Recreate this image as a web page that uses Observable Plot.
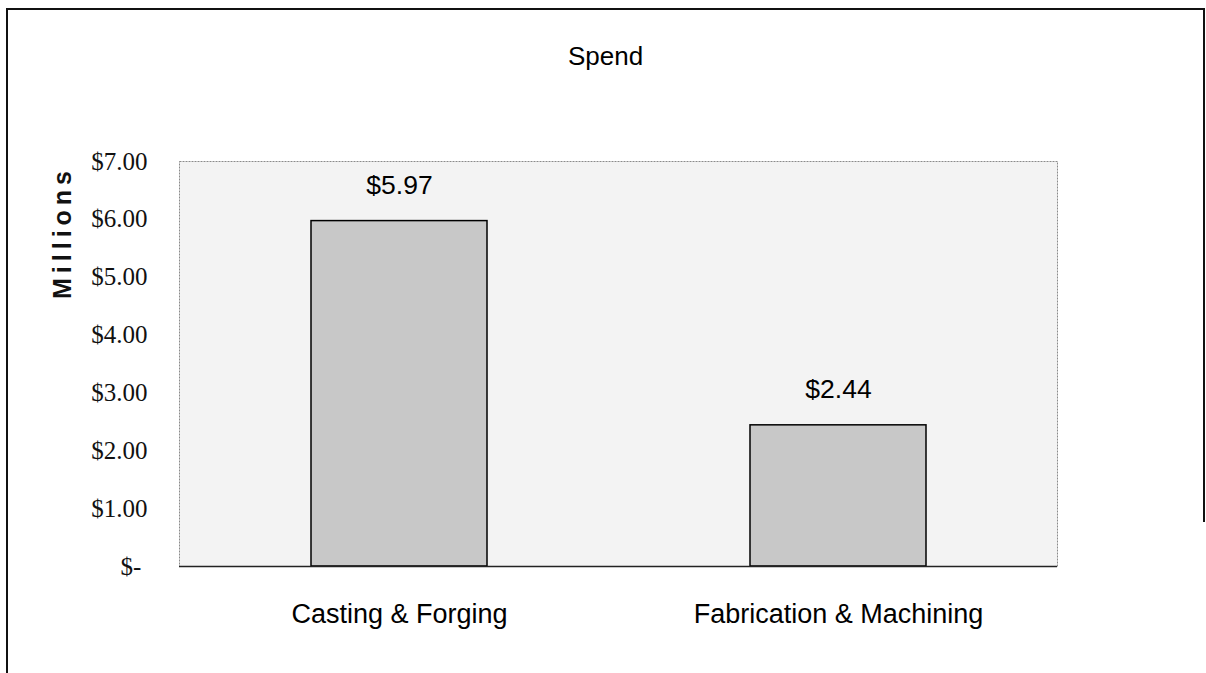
<!DOCTYPE html>
<html>
<head>
<meta charset="utf-8">
<script src="https://cdn.jsdelivr.net/npm/d3@7"></script>
<script src="https://cdn.jsdelivr.net/npm/@observablehq/plot@0.6"></script>
<style>
  html, body { margin: 0; padding: 0; background: #fff; }
  #wrap { position: relative; width: 1206px; height: 673px; overflow: hidden; }
  .b1 { position: absolute; left: 6px; top: 8px; width: 1195px; height: 512px;
        border-left: 2px solid #111; border-top: 2px solid #111; border-right: 2px solid #111; pointer-events: none; }
  .b2 { position: absolute; left: 6px; top: 520px; height: 160px; border-left: 2px solid #111; pointer-events: none; }
</style>
</head>
<body>
<div id="wrap"><div class="b1"></div><div class="b2"></div></div>
<script>
const categories = ["Casting & Forging", "Fabrication & Machining"];
const values = [5.97, 2.44];
const valueLabels = ["$5.97", "$2.44"];
const yTicks = [0, 1, 2, 3, 4, 5, 6, 7];
const yTickLabels = ["$-\u2005", "$1.00", "$2.00", "$3.00", "$4.00", "$5.00", "$6.00", "$7.00"];
const chartTitle = "Spend";
const yTitle = "Millions";

const data = categories.map((c, i) => ({cat: c, v: values[i], label: valueLabels[i]}));
const sans = "'Liberation Sans', Arial, sans-serif";
const serif = "'Liberation Serif', 'Times New Roman', serif";

const chart = Plot.plot({
  width: 1206,
  height: 673,
  marginLeft: 179,
  marginRight: 149,
  marginTop: 161,
  marginBottom: 107,
  style: {background: "transparent", overflow: "visible"},
  x: {domain: categories, paddingInner: 0.6, paddingOuter: 0.3, axis: null},
  y: {domain: [0, 7], axis: null},
  marks: [
    Plot.frame({fill: "#f3f3f3", stroke: "#8a8a8a", strokeDasharray: "2,1"}),
    Plot.barY(data, {x: "cat", y: "v", fill: "#c8c8c8", stroke: "#000", strokeWidth: 1.5}),
    Plot.ruleY([0], {stroke: "#222", strokeWidth: 1.5}),
    Plot.axisY({ticks: yTicks, tickSize: 0, tickPadding: 32, tickFormat: d => yTickLabels[yTicks.indexOf(d)],
      fontFamily: serif, fontSize: 25, fill: "#111", label: null}),
    Plot.text(data, {x: "cat", y: "v", text: "label", dy: -36, fontFamily: sans, fontSize: 26.5, fill: "#000"}),
    Plot.text(categories, {x: d => d, frameAnchor: "bottom", lineAnchor: "middle", dy: 48, fontFamily: sans, fontSize: 27, fill: "#000"}),
    Plot.text([chartTitle], {frameAnchor: "top", lineAnchor: "middle", dx: -13, dy: -105, fontFamily: sans, fontSize: 26, fill: "#000"}),
    Plot.text([yTitle], {frameAnchor: "top-left", lineAnchor: "middle", dx: -117, dy: 71, rotate: -90, textAnchor: "middle",
      fontFamily: sans, fontSize: 25, fontWeight: "bold", fill: "#111"})
  ]
});
d3.select(chart).selectAll("text").filter(function() { return this.textContent === yTitle; })
  .attr("letter-spacing", "5px").style("letter-spacing", "5px");
chart.style.position = "absolute";
chart.style.left = "0px";
chart.style.top = "0px";
document.getElementById("wrap").appendChild(chart);
</script>
</body>
</html>
